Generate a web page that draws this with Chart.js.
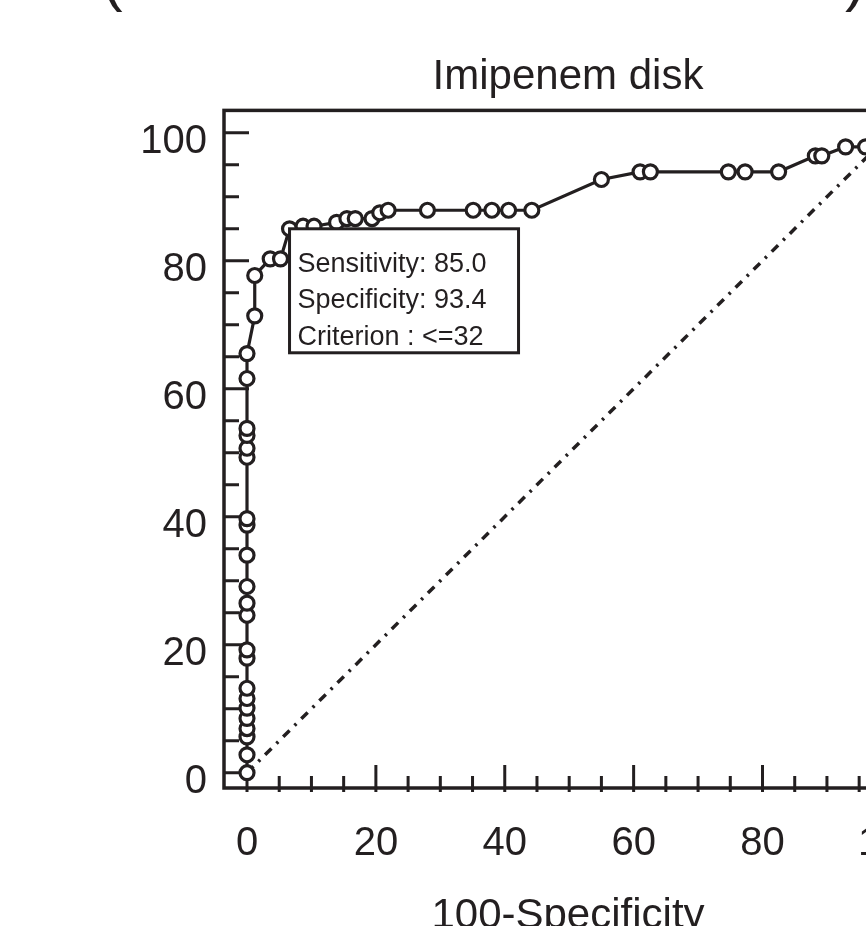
<!DOCTYPE html>
<html>
<head>
<meta charset="utf-8">
<title>Imipenem disk</title>
<script src="https://cdn.jsdelivr.net/npm/chart.js@4.4.1/dist/chart.umd.min.js"></script>
<style>
  html, body { margin: 0; padding: 0; background: #fff; overflow: hidden; }
  #wrap { position: relative; width: 1000px; height: 950px; }
  .paren { position: absolute; top: -52px; font: 62px "Liberation Sans", Arial, sans-serif; line-height: 60px; color: #231f20; }
</style>
</head>
<body>
<div id="wrap">
  <span class="paren" style="left:102px">(</span>
  <span class="paren" style="left:845px">)</span>
  <canvas id="roc" width="1000" height="950"></canvas>
</div>
<script>
// ROC curve points
const fpr = [0, 0, 0, 0, 0, 0, 0, 0, 0, 0, 0, 0, 0, 0, 0, 0, 0, 0, 0, 0, 0, 0,
  1.2, 1.2, 3.6, 5.2, 6.6, 8.7, 10.4, 13.9, 15.5, 16.8, 19.4, 20.6, 21.9,
  28.0, 35.1, 38.0, 40.6, 44.2, 55.0, 61.0, 62.6, 74.7, 77.3, 82.5, 88.2, 89.2,
  92.9, 96.0, 100];
const sensitivity = [0, 2.8, 5.6, 6.9, 8.5, 10.1, 11.6, 13.2, 17.9, 19.2, 24.6, 26.5,
  29.1, 34.0, 38.7, 39.7, 49.3, 50.7, 52.7, 53.8, 61.6, 65.5,
  71.4, 77.7, 80.3, 80.3, 85.0, 85.4, 85.4, 86.0, 86.6, 86.6, 86.6, 87.5, 87.9,
  87.9, 87.9, 87.9, 87.9, 87.9, 92.7, 93.9, 93.9, 93.9, 93.9, 93.9, 96.4, 96.4,
  97.8, 97.8, 100];
const diagonalX = [0, 100];
const diagonalY = [0, 100];
const labelTicks = [0, 20, 40, 60, 80, 100];
const minorStep = 5;
const criterion = { x: 6.6, y: 85.0 };
const criterionText = ['Sensitivity: 85.0', 'Specificity: 93.4', 'Criterion : <=32'];

const ink = '#231f20';
const font = '"Liberation Sans", Arial, Helvetica, sans-serif';

const frameTicks = {
  id: 'frameTicks',
  beforeDatasetsDraw(chart) {
    const { ctx, chartArea: a, scales: { x, y } } = chart;
    ctx.save();
    ctx.strokeStyle = ink;
    ctx.lineWidth = 3.5;
    ctx.strokeRect(a.left, a.top, a.right - a.left, a.bottom - a.top);
    ctx.lineWidth = 3;
    ctx.beginPath();
    for (let v = 0; v <= 100; v += minorStep) {
      const major = labelTicks.includes(v);
      const px = x.getPixelForValue(v);
      ctx.moveTo(px, a.bottom + 4);
      ctx.lineTo(px, a.bottom - (major ? 23 : 12));
      const py = y.getPixelForValue(v);
      ctx.moveTo(a.left, py);
      ctx.lineTo(a.left + (major ? 25 : 15), py);
    }
    ctx.stroke();
    ctx.restore();
  },
  afterDatasetsDraw(chart) {
    const { ctx, scales: { x, y } } = chart;
    const left = x.getPixelForValue(criterion.x);
    const top = y.getPixelForValue(criterion.y);
    ctx.save();
    ctx.fillStyle = '#fff';
    ctx.fillRect(left, top, 229, 124);
    ctx.strokeStyle = ink;
    ctx.lineWidth = 3;
    ctx.strokeRect(left, top, 229, 124);
    ctx.fillStyle = ink;
    ctx.font = '27px ' + font;
    ctx.textBaseline = 'alphabetic';
    criterionText.forEach((t, i) => ctx.fillText(t, left + 8, top + 43 + i * 36.7));
    ctx.restore();
  }
};

new Chart(document.getElementById('roc'), {
  type: 'scatter',
  data: {
    datasets: [
      {
        data: fpr.map((v, i) => ({ x: v, y: sensitivity[i] })),
        showLine: true,
        borderColor: ink,
        borderWidth: 3.2,
        pointRadius: 7,
        pointBorderWidth: 3.2,
        pointBackgroundColor: '#fff',
        pointBorderColor: ink,
        order: 1
      },
      {
        data: diagonalX.map((v, i) => ({ x: v, y: diagonalY[i] })),
        showLine: true,
        borderColor: ink,
        borderWidth: 3.5,
        borderDash: [9, 7, 2.5, 7],
        pointRadius: 0,
        order: 2
      }
    ]
  },
  options: {
    responsive: false,
    animation: false,
    layout: { padding: { left: 0, right: 88, top: 0, bottom: 0 } },
    plugins: {
      legend: { display: false },
      tooltip: { enabled: false },
      title: {
        display: true,
        text: 'Imipenem disk',
        fullSize: false,
        color: ink,
        font: { family: font, size: 42, weight: 'normal' },
        padding: { top: 52, bottom: 8 }
      }
    },
    scales: {
      x: {
        type: 'linear',
        min: -3.57,
        max: 103.2,
        grid: { display: false, drawTicks: false },
        border: { display: false },
        afterBuildTicks: s => { s.ticks = labelTicks.map(v => ({ value: v })); },
        afterFit: s => { s.height = 162; },
        ticks: {
          autoSkip: false,
          maxRotation: 0,
          padding: 32,
          color: ink,
          font: { family: font, size: 40 }
        },
        title: {
          display: true,
          text: '100-Specificity',
          color: ink,
          font: { family: font, size: 42 },
          padding: { top: 0, bottom: 8 }
        }
      },
      y: {
        type: 'linear',
        min: -2.39,
        max: 103.5,
        grid: { display: false, drawTicks: false },
        border: { display: false },
        afterBuildTicks: s => { s.ticks = labelTicks.map(v => ({ value: v })); },
        afterFit: s => { s.width = 224; },
        ticks: {
          autoSkip: false,
          padding: 17,
          labelOffset: 9,
          color: ink,
          font: { family: font, size: 40 }
        }
      }
    }
  },
  plugins: [frameTicks]
});
</script>
</body>
</html>
